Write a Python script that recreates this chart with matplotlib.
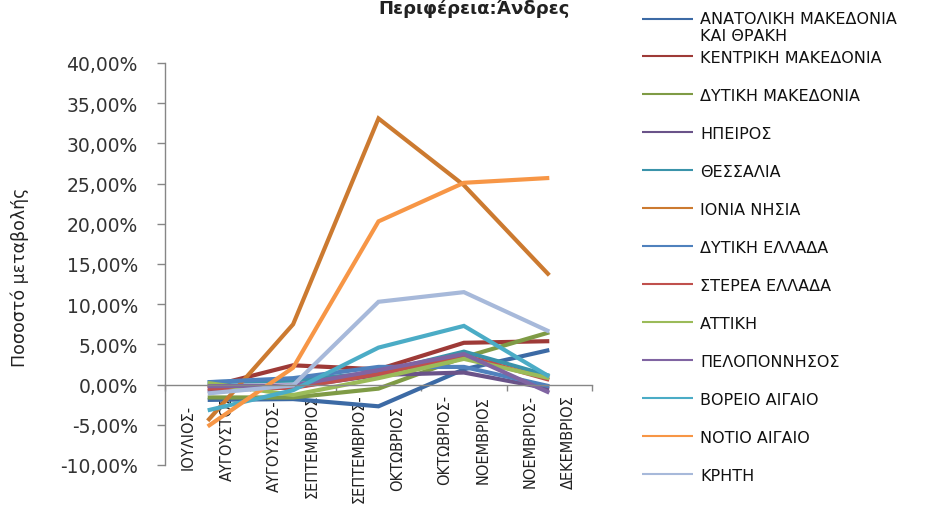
import matplotlib
matplotlib.use("Agg")
import matplotlib.pyplot as plt
from matplotlib.ticker import FuncFormatter, FixedLocator

plt.rcParams['font.family'] = ['DejaVu Sans']

title = "Περιφέρεια:Άνδρες"
ylabel = "Ποσοστό μεταβολής"
categories = ["ΙΟΥΛΙΟΣ-\nΑΥΓΟΥΣΤΟΣ", "ΑΥΓΟΥΣΤΟΣ-\nΣΕΠΤΕΜΒΡΙΟΣ", "ΣΕΠΤΕΜΒΡΙΟΣ-\nΟΚΤΩΒΡΙΟΣ",
              "ΟΚΤΩΒΡΙΟΣ-\nΝΟΕΜΒΡΙΟΣ", "ΝΟΕΜΒΡΙΟΣ-\nΔΕΚΕΜΒΡΙΟΣ"]

series_names = ["ΑΝΑΤΟΛΙΚΗ ΜΑΚΕΔΟΝΙΑ\nΚΑΙ ΘΡΑΚΗ", "ΚΕΝΤΡΙΚΗ ΜΑΚΕΔΟΝΙΑ", "ΔΥΤΙΚΗ ΜΑΚΕΔΟΝΙΑ",
                "ΗΠΕΙΡΟΣ", "ΘΕΣΣΑΛΙΑ", "ΙΟΝΙΑ ΝΗΣΙΑ", "ΔΥΤΙΚΗ ΕΛΛΑΔΑ", "ΣΤΕΡΕΑ ΕΛΛΑΔΑ",
                "ΑΤΤΙΚΗ", "ΠΕΛΟΠΟΝΝΗΣΟΣ", "ΒΟΡΕΙΟ ΑΙΓΑΙΟ", "ΝΟΤΙΟ ΑΙΓΑΙΟ", "ΚΡΗΤΗ"]

anat_makedonia_thraki = [-1.9, -1.8, -2.7, 1.9, 4.3]
kentriki_makedonia = [-0.3, 2.4, 1.9, 5.2, 5.4]
dytiki_makedonia = [-1.6, -1.6, -0.5, 3.4, 6.5]
ipeiros = [-0.8, -0.3, 1.2, 1.5, -0.5]
thessalia = [0.3, 0.5, 1.5, 4.1, 1.1]
ionia_nisia = [-4.5, 7.5, 33.1, 24.8, 13.6]
dytiki_ellada = [0.3, 0.8, 2.2, 2.2, -0.2]
sterea_ellada = [-0.5, -0.4, 1.3, 3.6, 0.6]
attiki = [0.2, -1.3, 0.8, 3.2, 0.8]
peloponnisos = [-0.2, -0.1, 1.8, 3.8, -1.0]
voreio_aigaio = [-3.2, -0.7, 4.6, 7.3, 1.0]
notio_aigaio = [-5.2, 2.1, 20.3, 25.1, 25.7]
kriti = [-1.1, -0.1, 10.3, 11.5, 6.6]

all_series = [anat_makedonia_thraki, kentriki_makedonia, dytiki_makedonia, ipeiros, thessalia,
              ionia_nisia, dytiki_ellada, sterea_ellada, attiki, peloponnisos,
              voreio_aigaio, notio_aigaio, kriti]

colors = ["#3C6AA5", "#9E3A37", "#7F9B45", "#6A5389", "#3A93AA", "#CC7A30",
          "#4F81BD", "#C0504D", "#9BBB59", "#8064A2", "#4BACC6", "#F79646", "#A7B9DA"]

W, H = 925, 510
fig = plt.figure(figsize=(W / 100, H / 100), dpi=100)
L, R, T, B = 165, 592, 64, 466
ax = fig.add_axes([L / W, 1 - B / H, (R - L) / W, (B - T) / H])

x = list(range(len(categories)))
lines = []
for vals, name, c in zip(all_series, series_names, colors):
    ln, = ax.plot(x, vals, color=c, lw=3.0, label=name, solid_joinstyle='miter',
                  solid_capstyle='butt')
    lines.append(ln)

ax.set_xlim(-0.5, len(categories) - 0.5)
ax.set_ylim(-10, 40)
ax.yaxis.set_major_locator(FixedLocator([-10, -5, 0, 5, 10, 15, 20, 25, 30, 35, 40]))
ax.yaxis.set_major_formatter(FuncFormatter(lambda v, p: f"{v:.2f}%".replace('.', ',')))

axis_col = "#868686"
for s in ['top', 'right']:
    ax.spines[s].set_visible(False)
ax.spines['left'].set_color(axis_col)
ax.spines['left'].set_linewidth(1.0)
ax.spines['bottom'].set_position(('data', 0))
ax.spines['bottom'].set_color(axis_col)
ax.spines['bottom'].set_linewidth(1.0)

ax.tick_params(axis='y', direction='out', length=5.5, width=1, color=axis_col,
               labelsize=13.5, labelcolor='#333333', pad=14)

ax.set_xticks(x)
ax.set_xticklabels(categories)
ax.set_xticks([i - 0.5 for i in range(len(categories) + 1)], minor=True)
ax.tick_params(axis='x', which='major', length=0, pad=6.5, labelsize=10.5,
               labelcolor='#222222', labelrotation=90)
ax.tick_params(axis='x', which='minor', direction='out', length=4.5, width=1, color=axis_col)
for lab in ax.get_xticklabels():
    lab.set_multialignment('center')
    lab.set_linespacing(2.95)
    lab.set_verticalalignment('top')

fig.text(20 / W, 1 - 277 / H, ylabel, rotation=90, ha='center', va='center',
         fontsize=12.5, color='#222222')

fig.text(474 / W, 1 - 14 / H, title, ha='center', va='baseline', fontsize=13,
         fontweight='bold', color='#222222')

leg_kw = dict(frameon=False, fontsize=11.5, handlelength=3.2, handletextpad=0.45,
              borderpad=0, borderaxespad=0, bbox_transform=fig.transFigure, loc='upper left')
leg1 = ax.legend(handles=lines[:1], bbox_to_anchor=(642 / W, 1 - 12 / H),
                 labelspacing=0, **leg_kw)
ax.add_artist(leg1)
leg2 = ax.legend(handles=lines[1:], bbox_to_anchor=(642 / W, 1 - 51 / H),
                 labelspacing=1.44, **leg_kw)
for lg in (leg1, leg2):
    for ln in lg.get_lines():
        ln.set_linewidth(1.5)
    for t in lg.get_texts():
        t.set_color('#111111')
# align the first legend's line with the first text row, as in the reference
h1 = leg1.legend_handles[0]
fig.canvas.draw()
yd = h1.get_ydata()
h1.set_ydata([v + 6.0 for v in yd])

fig.savefig("out.png", dpi=100)
